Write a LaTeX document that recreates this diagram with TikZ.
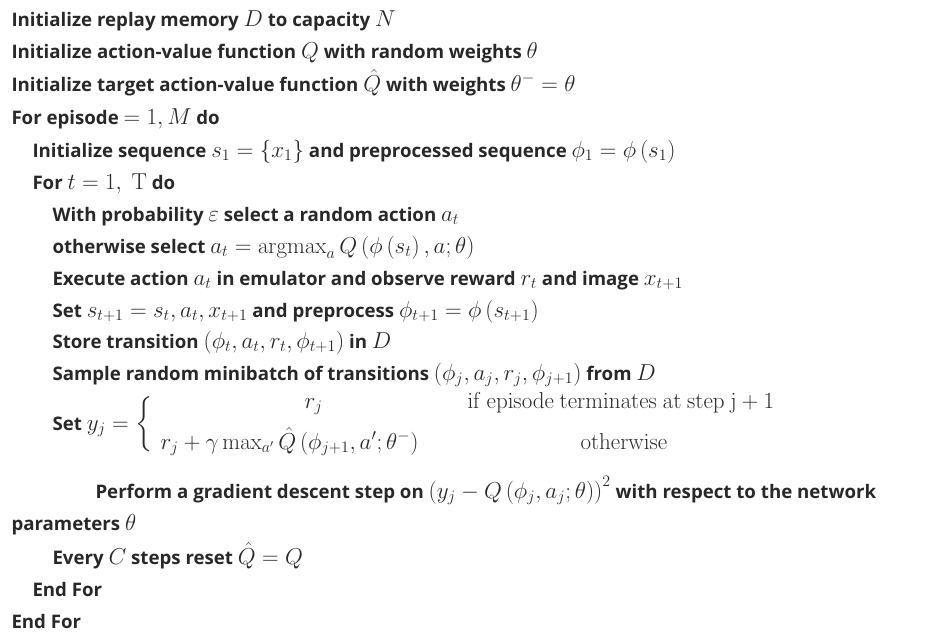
\documentclass[tikz,border=0pt]{standalone}
\usepackage{amsmath}
\usepackage[no-math]{fontspec}
\setmainfont{Open Sans}
\definecolor{algtext}{RGB}{40,40,40}
\newcommand{\mm}[1]{{\fontsize{16.5}{17}\selectfont$#1$}}
\tikzset{every picture/.style={line width=0.75pt}}
\tikzset{algline/.style={anchor=base west,inner sep=0pt,text=algtext,font=\fontsize{14}{17}\selectfont\bfseries}}

\begin{document}
\begin{tikzpicture}[x=0.75pt,y=0.75pt,yscale=-1,xscale=1]
\useasboundingbox (0,0) rectangle (945,640);

%Text lines of the algorithm
\node[algline] (l1) at (11,26) {Initialize replay memory \mm{D} to capacity \mm{N}};
\node[algline] (l2) at (11,58) {Initialize action-value function \mm{Q} with random weights \mm{\theta}};
\node[algline] (l3) at (11,91) {Initialize target action-value function \mm{\hat{Q}} with weights \mm{\theta^{-}=\theta}};
\node[algline] (l4) at (11,124) {For episode \mm{=1,M} do};
\node[algline] (l5) at (32,157) {Initialize sequence \mm{s_1=\{x_1\}} and preprocessed sequence \mm{\phi_1=\phi\left(s_1\right)}};
\node[algline] (l6) at (32,189) {For \mm{t=1,\ \mathrm{T}} do};
\node[algline] (l7) at (52,221) {With probability \mm{\varepsilon} select a random action \mm{a_t}};
\node[algline] (l8) at (52,253) {otherwise select \mm{a_t=\operatorname{argmax}_a Q\left(\phi\left(s_t\right),a;\theta\right)}};
\node[algline] (l9) at (52,285) {Execute action \mm{a_t} in emulator and observe reward \mm{r_t} and image \mm{x_{t+1}}};
\node[algline] (l10) at (52,317) {Set \mm{s_{t+1}=s_t,a_t,x_{t+1}} and preprocess \mm{\phi_{t+1}=\phi\left(s_{t+1}\right)}};
\node[algline] (l11) at (52,348) {Store transition \mm{\left(\phi_t,a_t,r_t,\phi_{t+1}\right)} in \mm{D}};
\node[algline] (l12) at (52,380) {Sample random minibatch of transitions \mm{\left(\phi_j,a_j,r_j,\phi_{j+1}\right)} from \mm{D}};

%Cases for y_j
\node[algline] (set) at (52,430) {Set \mm{y_j=\left\{\vphantom{\rule{0pt}{26pt}}\right.}};
\node[algline] (c1a) at (304,408) {\mm{r_j}};
\node[algline] (c1b) at (467,408) {\mm{\mathrm{if\ episode\ terminates\ at\ step\ j+1}}};
\node[algline] (c2a) at (160,449) {\mm{r_j+\gamma\max_{a'}\hat{Q}\left(\phi_{j+1},a';\theta^{-}\right)}};
\node[algline] (c2b) at (580,449) {\mm{\mathrm{otherwise}}};

\node[algline] (l13) at (95,498) {Perform a gradient descent step on \mm{\left(y_j-Q\left(\phi_j,a_j;\theta\right)\right)^2} with respect to the network};
\node[algline] (l14) at (11,530) {parameters \mm{\theta}};
\node[algline] (l15) at (52,564) {Every \mm{C} steps reset \mm{\hat{Q}=Q}};
\node[algline] (l16) at (32,596) {End For};
\node[algline] (l17) at (11,628) {End For};

\end{tikzpicture}
\end{document}
